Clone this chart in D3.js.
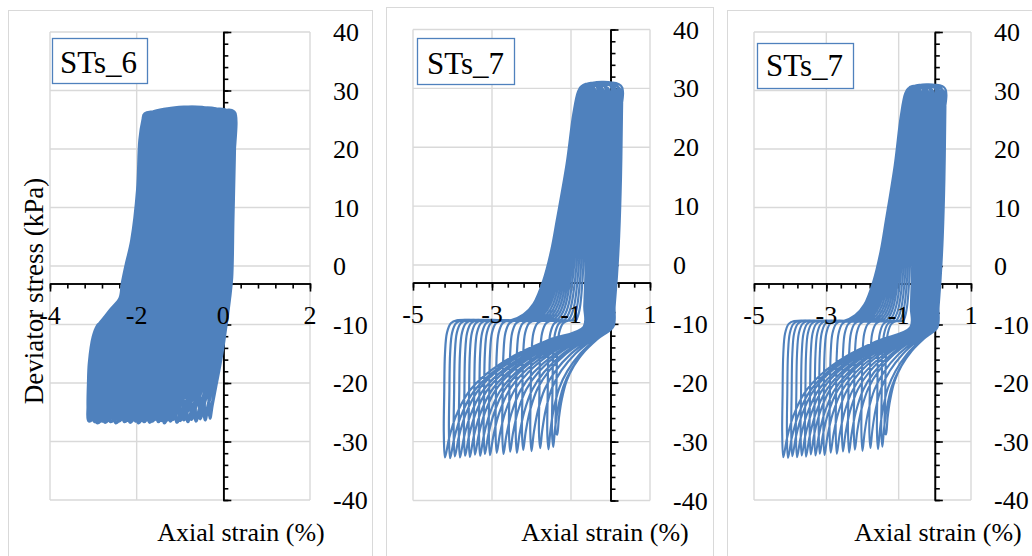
<!DOCTYPE html>
<html>
<head>
<meta charset="utf-8">
<script src="https://cdn.jsdelivr.net/npm/d3@7"></script>
<style>
  body { margin: 0; background: #fff; }
  text { font-family: "Liberation Serif", "Times New Roman", Tinos, "DejaVu Serif", serif; fill: #000; }
</style>
</head>
<body>
<svg id="chart" width="1032" height="556"></svg>
<script>
// tick labels
const st6XTicks = [-4, -2, 0, 2];
const st7XTicks = [-5, -3, -1, 1];
const yTicks = [-40, -30, -20, -10, 0, 10, 20, 30, 40];

// STs_6, one value per load cycle (first -> last), strain in %, stress in kPa
const st6PeakStrain = [0.27,0.26,0.25,0.24,0.23,0.22,0.21,0.19,0.17,0.15,0.13,0.11,0.09,0.07,0.05,0.03,0.01,-0.01,-0.03,-0.05,
  -0.07,-0.09,-0.11,-0.13,-0.15,-0.17,-0.19,-0.21,-0.23,-0.25,-0.26,-0.27,-0.28,-0.29,-0.30,-0.31,-0.32,-0.33,-0.34,-0.35,-0.36];
const st6PeakStress = [26.2,25.9,26.3,26.0,26.4,25.9,26.1,26.3,25.8,26.2,26.0,26.4,25.9,26.2,26.1,25.8,26.3,26.0,26.2,25.9,
  26.4,26.0,26.1,25.8,26.3,26.2,25.9,26.1,26.4,26.0,25.8,26.2,26.1,25.9,26.3,26.0,26.2,25.9,26.1,25.8,26.0];
const st6UnloadStrain = [0.10,0.09,0.08,0.07,0.06,0.05,0.04,0.02,0.00,-0.02,-0.04,-0.06,-0.08,-0.10,-0.12,-0.14,-0.16,-0.18,-0.20,-0.22,
  -0.24,-0.26,-0.28,-0.30,-0.32,-0.34,-0.36,-0.38,-0.40,-0.42,-0.43,-0.44,-0.45,-0.46,-0.47,-0.48,-0.49,-0.50,-0.51,-0.52];
const st6BottomStrain = [-0.31,-0.42,-0.53,-0.63,-0.73,-0.82,-0.91,-0.99,-1.07,-1.15,-1.22,-1.29,-1.36,-1.43,-1.50,-1.57,-1.63,-1.70,-1.76,-1.83,
  -1.89,-1.96,-2.02,-2.09,-2.15,-2.22,-2.28,-2.35,-2.41,-2.48,-2.54,-2.60,-2.67,-2.73,-2.79,-2.85,-2.91,-2.97,-3.04,-3.10];
const st6BottomStress = [-26.0,-26.3,-26.1,-26.5,-26.2,-26.6,-26.3,-26.4,-26.7,-26.2,-26.5,-26.3,-26.8,-26.4,-26.6,-26.2,-26.5,-26.7,-26.3,-26.6,
  -26.4,-26.8,-26.5,-26.3,-26.7,-26.4,-26.6,-26.2,-26.5,-26.8,-26.4,-26.6,-26.3,-26.7,-26.5,-26.4,-26.8,-26.6,-26.3,-26.5];
const st6RiseStrain = [-0.06,-0.17,-0.28,-0.38,-0.48,-0.57,-0.66,-0.74,-0.82,-0.90,-0.97,-1.04,-1.11,-1.18,-1.25,-1.32,-1.38,-1.45,-1.51,-1.58,
  -1.64,-1.71,-1.77,-1.84,-1.90,-1.97,-2.03,-2.10,-2.16,-2.23,-2.29,-2.35,-2.42,-2.48,-2.54,-2.60,-2.66,-2.72,-2.79,-2.85];
const st6TopStrain = [0.18,0.12,0.07,0.02,-0.03,-0.08,-0.13,-0.18,-0.23,-0.28,-0.33,-0.38,-0.43,-0.48,-0.53,-0.58,-0.63,-0.68,-0.73,-0.78,
  -0.83,-0.88,-0.93,-0.98,-1.03,-1.08,-1.13,-1.18,-1.23,-1.28,-1.33,-1.38,-1.43,-1.48,-1.53,-1.58,-1.63,-1.68,-1.74,-1.81];

// STs_6 loop shape
const st6UnloadShape = [[0.12, 18], [0.3, 8], [0.47, -2], [0.75, -5.5], [1, -8]];
const st6DescentShape = [[0.1, 0.12], [0.25, 0.3], [0.45, 0.5], [0.7, 0.72], [0.88, 0.88], [1, 1]];
const st6ReloadShape = [[-0.02, -24], [-0.01, -20], [0.01, -16.6], [0.1, -12.1], [0.2, -10.2]];
const st6LoadShape = [[0, -9.8], [0.24, -7.5], [0.45, -5.5], [0.5, -3], [0.58, 0], [0.71, 4.4], [0.84, 13], [0.89, 21.5], [0.96, 25]];

// STs_7, one value per load cycle (first -> last)
const st7PeakStrain = [0.30,0.26,0.22,0.18,0.14,0.10,0.06,0.02,-0.02,-0.07,-0.12,-0.17,-0.22,-0.27,-0.32,-0.37,-0.42,-0.47,-0.52,-0.57,-0.62];
const st7PeakStress = [30.2,30.5,30.1,30.4,30.6,30.2,30.5,30.3,30.6,30.1,30.4,30.6,30.2,30.5,30.3,30.6,30.2,30.4,30.5,30.2,30.4];
const st7UnloadStrain = [0.07,0.05,0.03,0.01,-0.02,-0.05,-0.09,-0.13,-0.17,-0.21,-0.26,-0.31,-0.36,-0.41,-0.46,-0.51,-0.56,-0.61,-0.65,-0.68];
const st7BottomStrain = [-1.35,-1.45,-1.57,-1.78,-2.00,-2.21,-2.37,-2.54,-2.71,-2.88,-3.05,-3.18,-3.30,-3.43,-3.56,-3.68,-3.81,-3.94,-4.06,-4.19];
const st7BottomStress = [-28.8,-30.9,-31.3,-31.1,-31.6,-31.4,-31.9,-31.7,-32.1,-31.9,-32.3,-32.1,-32.4,-32.2,-32.6,-32.4,-32.7,-32.5,-32.8,-32.7];
const st7RiseStrain = [-0.88,-0.98,-1.08,-1.18,-1.28,-1.38,-1.47,-1.56,-1.65,-1.74,-1.83,-1.92,-2.00,-2.08,-2.16,-2.23,-2.30,-2.37,-2.45,-2.53];
const st7TopStrain = [-0.51,-0.53,-0.55,-0.57,-0.59,-0.60,-0.61,-0.62,-0.63,-0.64,-0.65,-0.66,-0.67,-0.68,-0.69,-0.70,-0.70,-0.71,-0.72,-0.73];

// STs_7 loop shape
const st7UnloadShape = [[0.05, 25], [0.15, 15], [0.35, 5], [0.6, -2], [0.85, -7], [1, -10.5]];
const st7DescentShape = [[0.25, 0.1], [0.5, 0.22], [0.7, 0.36], [0.83, 0.5], [0.92, 0.68], [0.97, 0.85], [1, 1]];
const st7ReloadShape = [[-0.03, -28.5], [-0.02, -22], [0, -15], [0.05, -11.5], [0.15, -9.9], [0.3, -9.4]];
const st7LoadShape = [[0, -9.4], [0.183, -8.4], [0.322, -6.6], [0.461, -2.6], [0.572, 2.5], [0.65, 7.6], [0.789, 17.2], [0.883, 25.7], [0.95, 29.5]];

const st6 = {peak: st6PeakStrain, peakStress: st6PeakStress, unload: st6UnloadStrain, bottom: st6BottomStrain,
  bottomStress: st6BottomStress, rise: st6RiseStrain, top: st6TopStrain,
  unloadShape: st6UnloadShape, descentShape: st6DescentShape, reloadShape: st6ReloadShape, loadShape: st6LoadShape};
const st7 = {peak: st7PeakStrain, peakStress: st7PeakStress, unload: st7UnloadStrain, bottom: st7BottomStrain,
  bottomStress: st7BottomStress, rise: st7RiseStrain, top: st7TopStrain,
  unloadShape: st7UnloadShape, descentShape: st7DescentShape, reloadShape: st7ReloadShape, loadShape: st7LoadShape};

// walk through all cycles and return [strain, stress] points in test order
function cyclePoints(d) {
  const pts = [];
  const n = d.bottom.length;
  for (let i = 0; i < n; i++) {
    const c = d.peak[i], u = d.unload[i], b = d.bottom[i];
    pts.push([c, d.peakStress[i]]);
    d.unloadShape.forEach(([f, s]) => pts.push([c + f * (u - c), s]));
    const s0 = d.unloadShape[d.unloadShape.length - 1][1];
    d.descentShape.forEach(([fx, fy]) => pts.push([u + fx * (b - u), s0 + fy * (d.bottomStress[i] - s0)]));
    d.reloadShape.forEach(([dx, s]) => pts.push([b + dx, s]));
    const r = d.rise[i], a = d.top[i];
    d.loadShape.forEach(([f, s]) => pts.push([r + f * (a - r), s]));
    pts.push([a, d.peakStress[i + 1]]);
  }
  pts.push([d.peak[n], d.peakStress[n]]);
  return pts;
}

const panels = [
  {frame: [8.5, 10.5, 364], xRange: [50, 310], yRange: [500, 32], xDomain: [-4, 2], xTicks: st6XTicks,
   label: "STs_6", box: [52.5, 38.5, 95, 45], labelPos: [60, 73], titleX: 241, yTitle: true, data: st6, lineWidth: 3.4},
  {frame: [386.5, 7.5, 327], xRange: [413, 650], yRange: [500.5, 29.5], xDomain: [-5, 1], xTicks: st7XTicks,
   label: "STs_7", box: [417.5, 38.5, 97, 46], labelPos: [427, 73.5], titleX: 605, yTitle: false, data: st7, lineWidth: 2.2},
  {frame: [727.5, 10.5, 400], xRange: [754, 971], yRange: [500, 32], xDomain: [-5, 1], xTicks: st7XTicks,
   label: "STs_7", box: [757.5, 43.5, 96, 45], labelPos: [766, 76], titleX: 938, yTitle: false, data: st7, lineWidth: 2.1}
];

const serif = '"Liberation Serif", "Times New Roman", Tinos, "DejaVu Serif", serif';
const svg = d3.select("#chart");
svg.append("rect").attr("width", 1032).attr("height", 556).attr("fill", "#fff");

panels.forEach(p => {
  const g = svg.append("g");
  const x = d3.scaleLinear().domain(p.xDomain).range(p.xRange);
  const y = d3.scaleLinear().domain([-40, 40]).range(p.yRange);

  g.append("rect")
    .attr("x", p.frame[0]).attr("y", p.frame[1])
    .attr("width", p.frame[2]).attr("height", 600)
    .attr("fill", "#fff").attr("stroke", "#d9d9d9").attr("stroke-width", 1);

  // gridlines
  const xGrid = d3.range(p.xDomain[0], p.xDomain[1] + 0.001, 2);
  g.selectAll(".vgrid").data(xGrid).join("line")
    .attr("x1", d => x(d)).attr("x2", d => x(d))
    .attr("y1", y(40)).attr("y2", y(-40))
    .attr("stroke", "#d9d9d9").attr("stroke-width", 1.4);
  g.selectAll(".hgrid").data(yTicks).join("line")
    .attr("x1", x.range()[0]).attr("x2", x.range()[1])
    .attr("y1", d => y(d)).attr("y2", d => y(d))
    .attr("stroke", "#d9d9d9").attr("stroke-width", 1.4);

  // axes: y axis at strain 0, x axis crossing at -3 kPa
  const yMinor = d3.range(-40, 41, 2);
  g.append("g").attr("transform", `translate(${x(0)},0)`)
    .call(d3.axisRight(y).tickValues(yMinor).tickSize(5).tickSizeOuter(0).tickFormat(""));
  g.append("g").attr("transform", `translate(${x(0)},0)`)
    .call(d3.axisRight(y).tickValues(yTicks).tickSize(8).tickSizeOuter(0).tickFormat(""));
  const xMinor = d3.range(0, 16).map(k => p.xDomain[0] + k * 0.4).filter(v => v <= p.xDomain[1] + 1e-9);
  g.append("g").attr("transform", `translate(0,${y(-3)})`)
    .call(d3.axisBottom(x).tickValues(xMinor).tickSize(5).tickSizeOuter(0).tickFormat(""));
  g.append("g").attr("transform", `translate(0,${y(-3)})`)
    .call(d3.axisBottom(x).tickValues(p.xTicks).tickSize(8).tickSizeOuter(0).tickFormat(""));
  g.selectAll(".domain, .tick line").attr("stroke", "#000").attr("stroke-width", 1.6);

  // data
  const line = d3.line()
    .x(d => x(d[0])).y(d => y(d[1]))
    .curve(d3.curveCatmullRom.alpha(0.5));
  g.append("path")
    .datum(cyclePoints(p.data))
    .attr("d", line)
    .attr("fill", "none")
    .attr("stroke", "#4f81bd")
    .attr("stroke-width", p.lineWidth)
    .attr("stroke-linejoin", "round");

  // tick labels
  g.selectAll(".xl").data(p.xTicks).join("text")
    .attr("x", d => x(d)).attr("y", y(-3) + 40)
    .attr("text-anchor", "middle").attr("font-size", 26).attr("font-family", serif)
    .text(d => d);
  g.selectAll(".yl").data(yTicks).join("text")
    .attr("x", x.range()[1] + 23).attr("y", d => y(d)).attr("dy", "0.35em")
    .attr("font-size", 26).attr("font-family", serif)
    .text(d => d);

  // sample label box
  g.append("rect")
    .attr("x", p.box[0]).attr("y", p.box[1]).attr("width", p.box[2]).attr("height", p.box[3])
    .attr("fill", "#fff").attr("stroke", "#4f81bd").attr("stroke-width", 1.3);
  g.append("text")
    .attr("x", p.labelPos[0]).attr("y", p.labelPos[1])
    .attr("font-size", 31).attr("font-family", serif).text(p.label);

  // axis titles
  g.append("text")
    .attr("x", p.titleX).attr("y", 541)
    .attr("text-anchor", "middle").attr("font-size", 26).attr("font-family", serif)
    .text("Axial strain (%)");
  if (p.yTitle) {
    g.append("text")
      .attr("transform", "translate(43,291) rotate(-90)")
      .attr("text-anchor", "middle").attr("font-size", 27).attr("font-family", serif)
      .text("Deviator stress (kPa)");
  }
});
</script>
</body>
</html>
